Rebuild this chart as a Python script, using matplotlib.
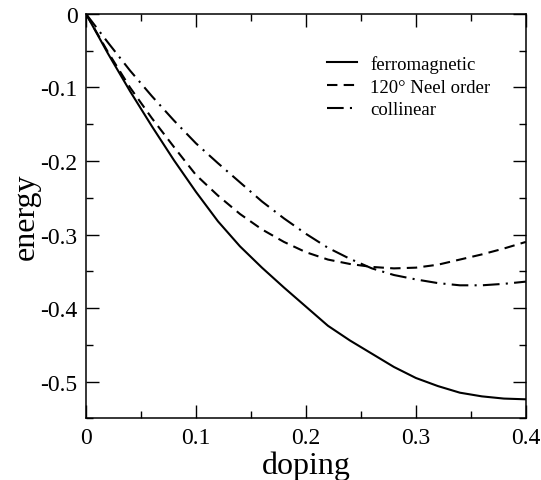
import matplotlib
matplotlib.use("Agg")
import matplotlib.pyplot as plt
from matplotlib.ticker import MultipleLocator

# doping values
x = [0, 0.02, 0.04, 0.06, 0.08, 0.10, 0.12, 0.14, 0.16, 0.18, 0.20,
     0.22, 0.24, 0.26, 0.28, 0.30, 0.32, 0.34, 0.36, 0.38, 0.40]

ferro = [0, -0.054, -0.105, -0.153, -0.199, -0.242, -0.282, -0.316, -0.345,
         -0.372, -0.398, -0.424, -0.444, -0.462, -0.480, -0.495, -0.506,
         -0.515, -0.520, -0.523, -0.524]
neel = [0, -0.052, -0.100, -0.142, -0.181, -0.219, -0.247, -0.272, -0.293,
        -0.310, -0.324, -0.334, -0.340, -0.344, -0.346, -0.345, -0.341,
        -0.334, -0.327, -0.319, -0.310]
collinear = [0, -0.039, -0.077, -0.112, -0.145, -0.176, -0.203, -0.229, -0.255,
             -0.278, -0.299, -0.318, -0.333, -0.346, -0.355, -0.361, -0.366,
             -0.369, -0.369, -0.367, -0.364]

xticks = [0, 0.1, 0.2, 0.3, 0.4]
xticklabels = ["0", "0.1", "0.2", "0.3", "0.4"]
yticks = [0, -0.1, -0.2, -0.3, -0.4, -0.5]
yticklabels = ["0", "-0.1", "-0.2", "-0.3", "-0.4", "-0.5"]

plt.rcParams['font.family'] = ['Liberation Serif', 'DejaVu Serif']

fig = plt.figure(figsize=(5.41, 4.81), dpi=100)
ax = fig.add_axes([0.159, 0.128, 0.813, 0.841])

ax.plot(x, ferro, color="black", lw=1.5, linestyle="-", label="ferromagnetic")
ax.plot(x, neel, color="black", lw=1.5, linestyle=(0, (5, 3)), label="120° Neel order")
ax.plot(x, collinear, color="black", lw=1.5, linestyle=(0, (8, 3, 1, 3)), label="collinear")

ax.set_xlim(0, 0.4)
ax.set_ylim(-0.55, 0)
ax.set_xticks(xticks)
ax.set_xticklabels(xticklabels)
ax.set_yticks(yticks)
ax.set_yticklabels(yticklabels)
ax.xaxis.set_minor_locator(MultipleLocator(0.05))
ax.yaxis.set_minor_locator(MultipleLocator(0.05))

ax.tick_params(which="both", direction="in", top=True, right=True, width=1)
ax.tick_params(which="major", length=9.5, labelsize=17, pad=6)
ax.tick_params(which="minor", length=4.8)
for s in ax.spines.values():
    s.set_linewidth(1.1)

ax.set_xlabel("doping", fontsize=23, labelpad=2)
ax.set_ylabel("energy", fontsize=23, labelpad=0)

ax.legend(frameon=False, fontsize=13.5, loc="upper right", bbox_to_anchor=(0.958, 0.94),
          handlelength=1.6, handletextpad=0.7, labelspacing=0.3)

fig.savefig("out.png", dpi=100)
